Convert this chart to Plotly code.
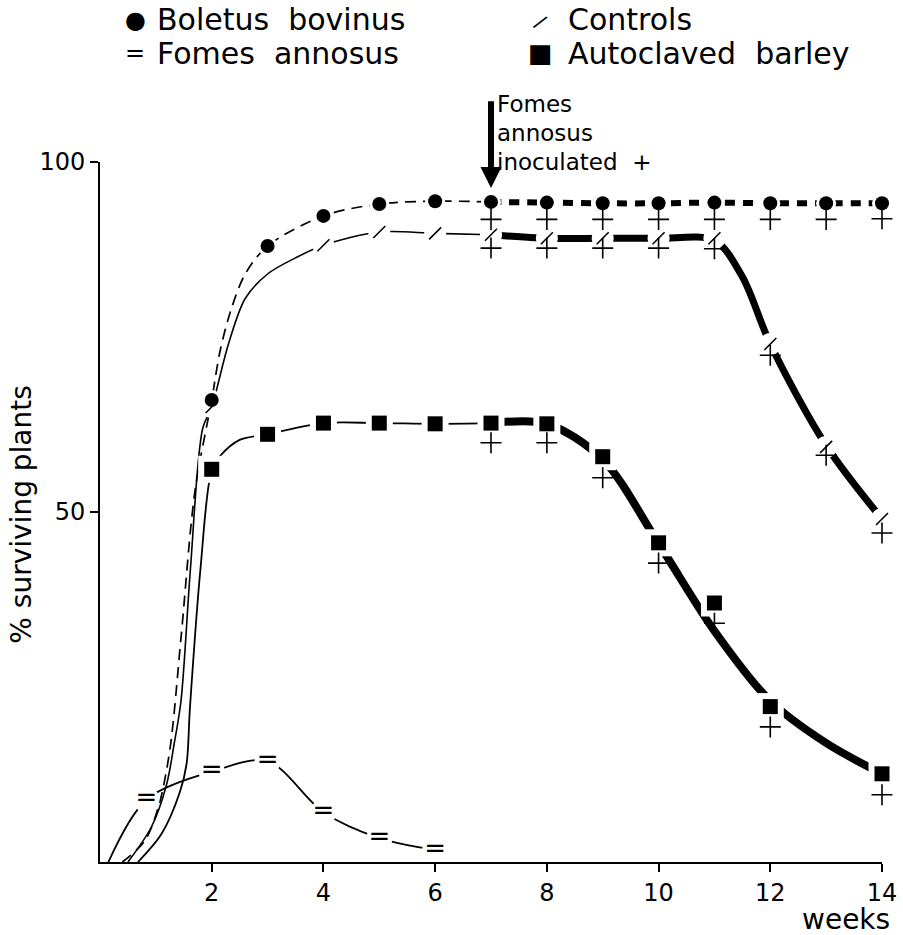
import plotly.graph_objects as go

# ---------------- data ----------------
x_tick_vals = [2, 4, 6, 8, 10, 12, 14]
x_tick_text = ["2", "4", "6", "8", "10", "12", "14"]
y_tick_vals = [50, 100]
y_tick_text = ["50", "100"]

# Boletus bovinus (filled circles)
boletus_weeks = [2, 3, 4, 5, 6, 7, 8, 9, 10, 11, 12, 13, 14]
boletus_pct = [66, 88, 92.3, 94, 94.4, 94.3, 94.2, 94.1, 94.1, 94.2, 94.1, 94.1, 94.1]
boletus_early_weeks = [0.4, 0.8, 1.05, 1.25, 1.45, 1.7, 2, 2.15, 2.35, 2.6, 3, 4, 5, 6, 7]
boletus_early_pct = [0, 3, 8, 16, 32, 53, 66, 73, 79, 84, 88, 92.3, 94, 94.4, 94.3]
boletus_late_weeks = [7, 8, 9, 10, 11, 12, 13, 14]
boletus_late_pct = [94.3, 94.2, 94.1, 94.1, 94.2, 94.1, 94.1, 94.1]

# Controls (slashes)
controls_weeks = [2, 4, 5, 6, 7, 8, 9, 10, 11, 12, 13, 14]
controls_pct = [65, 88.1, 90, 89.8, 89.6, 89.1, 89.1, 89.1, 89.1, 74, 59.3, 49]
controls_early_weeks = [0.5, 0.92, 1.19, 1.33, 1.45, 1.62, 1.84, 2, 2.3, 2.6, 3, 3.5, 4, 5, 6, 7]
controls_early_pct = [0, 5, 11, 17, 23, 42, 62, 65, 74, 80.5, 84, 86.3, 88.1, 90, 89.8, 89.6]
controls_late_weeks = [7, 8, 9, 10, 11, 11.5, 12, 13, 14]
controls_late_pct = [89.6, 89.1, 89.1, 89.1, 88.8, 83.6, 74, 59.5, 49]

# Autoclaved barley (filled squares)
barley_weeks = [2, 3, 4, 5, 6, 7, 8, 9, 10, 11, 12, 14]
barley_pct = [56.1, 61.1, 62.7, 62.7, 62.6, 62.7, 62.6, 57.9, 45.6, 37, 22.2, 12.6]
barley_early_weeks = [0.68, 1.1, 1.43, 1.55, 1.61, 1.8, 2, 2.15, 2.5, 3, 4, 5, 6, 7]
barley_early_pct = [0, 4, 10, 14, 22, 42, 56, 58, 60.3, 61.1, 62.7, 62.7, 62.6, 62.7]
barley_late_weeks = [7, 8, 9, 10, 11, 12, 13, 14]
barley_late_pct = [62.7, 62.6, 57.5, 45.5, 33, 23, 17, 12.6]

# Fomes annosus (double bars)
fomes_weeks = [0.83, 2, 3, 4, 5, 6]
fomes_pct = [8.9, 12.9, 14.4, 7.1, 3.4, 1.7]
fomes_line_weeks = [0.15, 0.83, 2, 3, 4, 5, 6]
fomes_line_pct = [0, 8.9, 12.9, 14.4, 7.1, 3.4, 1.7]

# Fomes annosus inoculated (+)
inoc_weeks = [7, 8, 9, 10, 11, 12, 13, 14]
boletus_inoc_pct = [91.8, 91.8, 91.8, 91.8, 91.8, 91.8, 91.8, 91.9]
controls_inoc_pct = [87.7, 87.7, 87.7, 87.7, 87.6, 72.4, 58.1, 47]
barley_inoc_weeks = [7, 8, 9, 10, 11, 12, 14]
barley_inoc_pct = [59.9, 59.9, 54.9, 42.7, 34.1, 19.3, 9.6]

# ---------------- figure ----------------
FONT = "DejaVu Sans"
BLACK = "black"
fig = go.Figure()


def line(x, y, width, dash="solid"):
    fig.add_trace(go.Scatter(x=x, y=y, mode="lines",
                             line=dict(color=BLACK, width=width, dash=dash,
                                       shape="spline", smoothing=0.9),
                             hoverinfo="skip", showlegend=False))


def knockout(x, y, size, symbol="circle"):
    fig.add_trace(go.Scatter(x=x, y=y, mode="markers", cliponaxis=False,
                             marker=dict(color="white", size=size, symbol=symbol,
                                         line=dict(width=0)),
                             hoverinfo="skip", showlegend=False))


# thin lines (before inoculation)
line(boletus_early_weeks, boletus_early_pct, 1.7, "11px,7px")
line(controls_early_weeks, controls_early_pct, 1.6)
line(barley_early_weeks, barley_early_pct, 1.8)
line(fomes_line_weeks, fomes_line_pct, 1.8)

# thick lines (after inoculation)
line(boletus_late_weeks, boletus_late_pct, 6, "10px,8px")
line(controls_late_weeks, controls_late_pct, 7)
line(barley_late_weeks, barley_late_pct, 8)

# gaps around the symbols
knockout(boletus_weeks, boletus_pct, 20)
knockout(controls_weeks, controls_pct, 22)
knockout(barley_weeks, barley_pct, 27, "square")
knockout(fomes_weeks, fomes_pct, 26)

# symbols
fig.add_trace(go.Scatter(x=boletus_weeks, y=boletus_pct, mode="markers", cliponaxis=False,
                         marker=dict(color=BLACK, size=14, symbol="circle"),
                         showlegend=False, hoverinfo="skip"))
fig.add_trace(go.Scatter(x=barley_weeks, y=barley_pct, mode="markers", cliponaxis=False,
                         marker=dict(color=BLACK, size=15, symbol="square"),
                         showlegend=False, hoverinfo="skip"))
fig.add_trace(go.Scatter(x=controls_weeks, y=controls_pct, mode="markers", cliponaxis=False,
                         marker=dict(color=BLACK, size=12, symbol="line-ne",
                                     line=dict(color=BLACK, width=1.6)),
                         showlegend=False, hoverinfo="skip"))
fig.add_trace(go.Scatter(x=fomes_weeks, y=fomes_pct, mode="text", cliponaxis=False,
                         text=["="] * len(fomes_weeks), textposition="middle center",
                         textfont=dict(family=FONT, size=26, color=BLACK),
                         showlegend=False, hoverinfo="skip"))
for xs, ys in [(inoc_weeks, boletus_inoc_pct), (inoc_weeks, controls_inoc_pct),
               (barley_inoc_weeks, barley_inoc_pct)]:
    fig.add_trace(go.Scatter(x=xs, y=ys, mode="markers", cliponaxis=False,
                             marker=dict(color=BLACK, size=15, symbol="cross-thin",
                                         line=dict(color=BLACK, width=1.6)),
                             showlegend=False, hoverinfo="skip"))

# ---------------- annotations ----------------
ann = []
leg_font = dict(family=FONT, size=30, color=BLACK)
ann += [
    dict(x=0.0448, y=1.2029, xref="paper", yref="paper", text="●", showarrow=False,
         xanchor="center", yanchor="middle", font=dict(family=FONT, size=24, color=BLACK)),
    dict(x=0.070, y=1.2029, xref="paper", yref="paper", text="Boletus\u00a0\u00a0bovinus",
         showarrow=False, xanchor="left", yanchor="middle", font=leg_font),
    dict(x=0.0448, y=1.1557, xref="paper", yref="paper", text="=", showarrow=False,
         xanchor="center", yanchor="middle", font=dict(family=FONT, size=24, color=BLACK)),
    dict(x=0.070, y=1.1557, xref="paper", yref="paper", text="Fomes\u00a0\u00a0annosus",
         showarrow=False, xanchor="left", yanchor="middle", font=leg_font),
    dict(x=0.5639, y=1.200, xref="paper", yref="paper", text="/", showarrow=False,
         textangle=35, xanchor="center", yanchor="middle",
         font=dict(family=FONT, size=20, color=BLACK)),
    dict(x=0.596, y=1.2029, xref="paper", yref="paper", text="Controls",
         showarrow=False, xanchor="left", yanchor="middle", font=leg_font),
    dict(x=0.5639, y=1.1557, xref="paper", yref="paper", text="■", showarrow=False,
         xanchor="center", yanchor="middle", font=dict(family=FONT, size=26, color=BLACK)),
    dict(x=0.596, y=1.1557, xref="paper", yref="paper", text="Autoclaved\u00a0\u00a0barley",
         showarrow=False, xanchor="left", yanchor="middle", font=leg_font),
]
# inoculation arrow + text
ann.append(dict(x=7, y=96.3, ax=7, ay=108.9, xref="x", yref="y", axref="x", ayref="y",
                text="", showarrow=True, arrowhead=2, arrowsize=0.7, arrowwidth=6,
                arrowcolor=BLACK))
ino_font = dict(family=FONT, size=23, color=BLACK)
for txt, yy in [("Fomes", 1.0829), ("annosus", 1.0414), ("inoculated\u00a0\u00a0+", 1.0)]:
    ann.append(dict(x=0.5065, y=yy, xref="paper", yref="paper", text=txt, showarrow=False,
                    xanchor="left", yanchor="middle", font=ino_font, borderpad=0))
# axis titles
ann.append(dict(x=-0.1003, y=0.497, xref="paper", yref="paper", text="% surviving plants",
                textangle=-90, showarrow=False, xanchor="center", yanchor="middle",
                font=dict(family=FONT, size=28, color=BLACK)))
ann.append(dict(x=1.0115, y=-0.082, xref="paper", yref="paper", text="weeks",
                showarrow=False, xanchor="right", yanchor="middle", borderpad=0,
                font=dict(family=FONT, size=28, color=BLACK)))

fig.update_layout(
    width=903, height=935,
    margin=dict(l=100, r=21, t=162, b=73),
    paper_bgcolor="white", plot_bgcolor="white",
    font=dict(family=FONT, color=BLACK),
    annotations=ann,
    xaxis=dict(range=[0, 14], tickmode="array", tickvals=x_tick_vals, ticktext=x_tick_text,
               ticks="outside", ticklen=8, tickwidth=1.5, tickcolor=BLACK,
               ticklabeloverflow="allow", automargin=False,
               showline=True, linewidth=1.6, linecolor=BLACK, showgrid=False,
               zeroline=False, tickfont=dict(family=FONT, size=24, color=BLACK)),
    yaxis=dict(range=[0, 100], tickmode="array", tickvals=y_tick_vals, ticktext=y_tick_text,
               ticks="outside", ticklen=8, tickwidth=1.5, tickcolor=BLACK,
               ticklabeloverflow="allow", automargin=False,
               showline=True, linewidth=1.6, linecolor=BLACK, showgrid=False,
               zeroline=False, tickfont=dict(family=FONT, size=24, color=BLACK)),
)

# remove the browser's default 8px page margin so the 903x935 figure fills the window
fig.write_html("out.html", config={"displayModeBar": False},
               post_script="document.body.style.margin='0px';")
